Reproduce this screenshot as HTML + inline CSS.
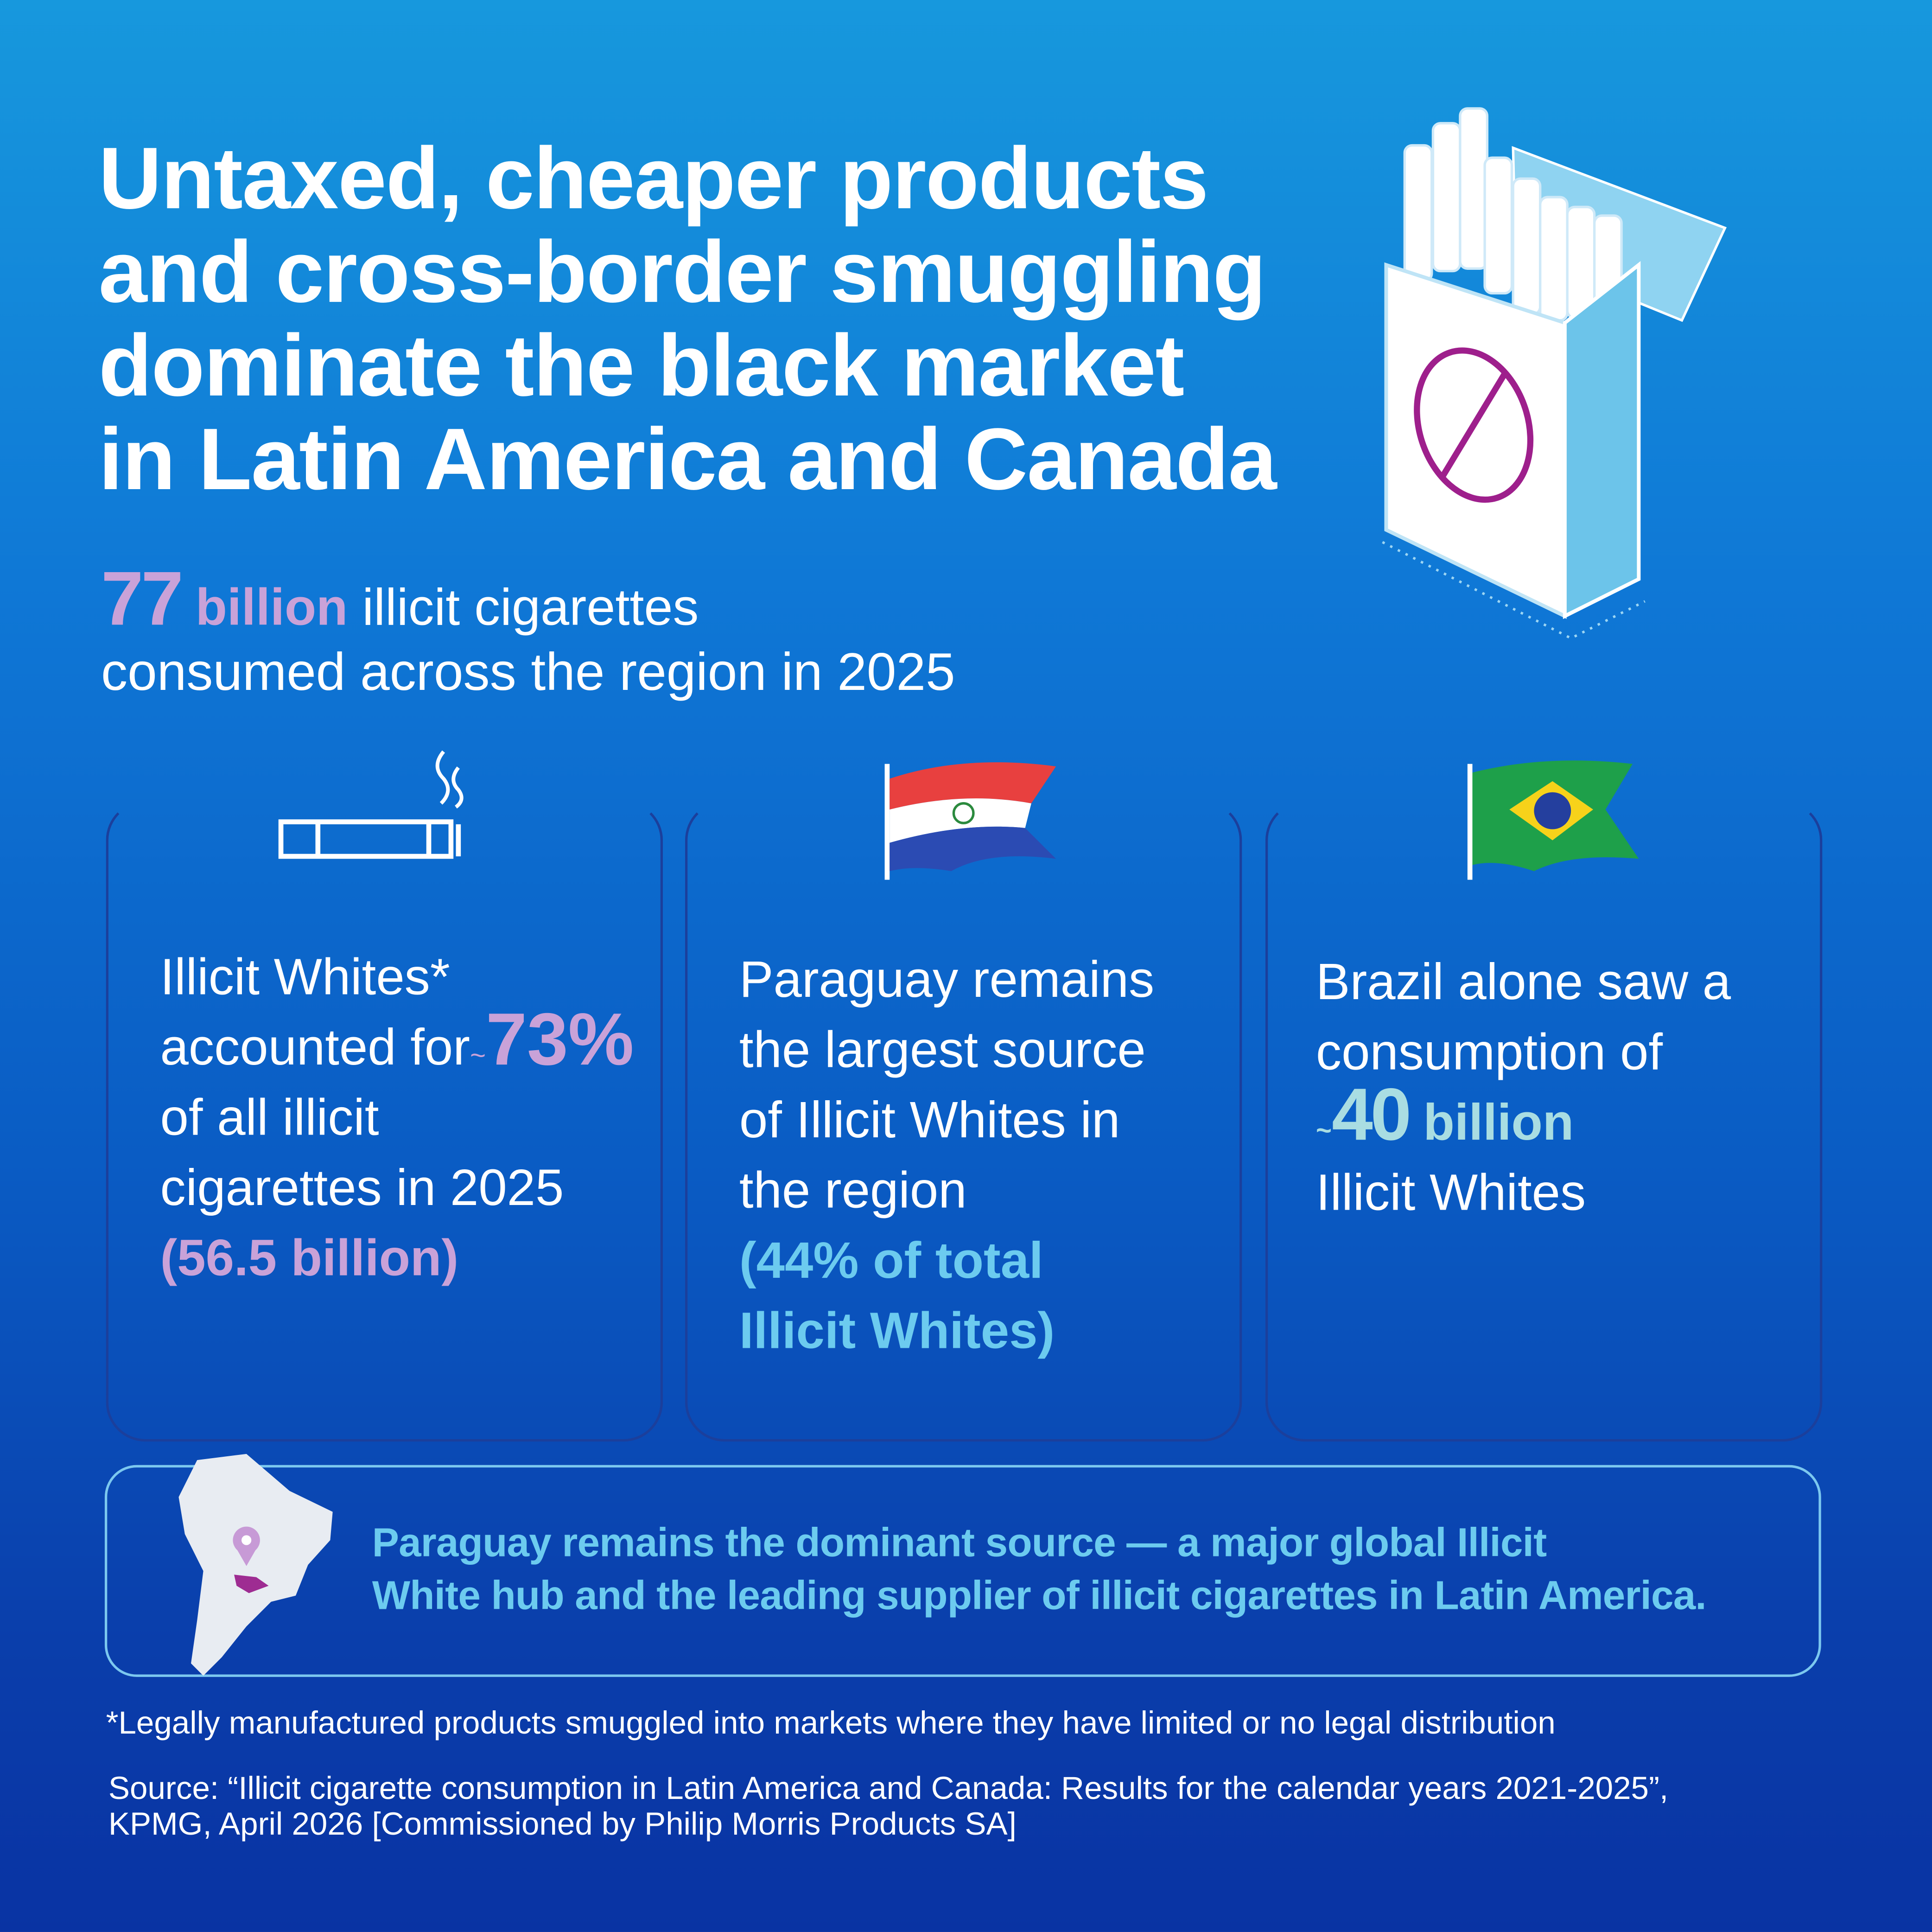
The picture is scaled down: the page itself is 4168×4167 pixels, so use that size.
<!DOCTYPE html>
<html><head><meta charset="utf-8"><style>
html,body{margin:0;padding:0;width:4168px;height:4167px;overflow:hidden;}
#w{position:absolute;left:0;top:0;width:1568px;height:1568px;transform:scale(2.65816,2.6575);transform-origin:0 0;
background:linear-gradient(180deg,#1798dd 0%,#0f78d6 30%,#0a5cc4 60%,#0a3eab 85%,#0933a3 100%);
font-family:"Liberation Sans",sans-serif;color:#fff;overflow:hidden;}
.a{position:absolute;white-space:nowrap;}
.t{font-weight:bold;font-size:71px;letter-spacing:-0.6px;line-height:76px;}
.card{position:absolute;top:650px;width:448px;height:516px;border:2.5px solid #1b3f9c;border-top-color:transparent;border-radius:32px;}
.ct{font-size:41.5px;line-height:57px;}
.big{line-height:0;}
.pk{color:#c9a2d8;font-weight:bold;}
.lb{color:#6ccbef;font-weight:bold;}
</style></head><body><div id="w">
<div class="a t" style="left:80px;top:108px;">Untaxed, cheaper products<br>and cross-border smuggling<br>dominate the black market<br>in Latin America and Canada</div>

<div class="a" style="left:82px;top:452px;font-size:42px;line-height:70px;"><span class="pk" style="font-size:62px;letter-spacing:-2px;">77</span> <span class="pk">billion</span> illicit cigarettes</div>
<div class="a" style="left:82px;top:522px;font-size:43px;">consumed across the region in 2025</div>

<!-- pack -->
<svg class="a" style="left:1110px;top:80px;" width="300" height="450" viewBox="1110 80 300 450">
<polygon points="1228,120 1400,185 1365,260 1230,205" fill="#8fd3f1" stroke="#fff" stroke-width="2"/>
<g fill="#fff" stroke="#cfe9f8" stroke-width="2">
<rect x="1140" y="118" width="22" height="110" rx="6"/><rect x="1163" y="100" width="22" height="120" rx="6"/><rect x="1185" y="88" width="22" height="130" rx="6"/>
<rect x="1205" y="128" width="22" height="110" rx="6"/><rect x="1228" y="145" width="22" height="110" rx="6"/><rect x="1250" y="160" width="22" height="100" rx="6"/>
<rect x="1272" y="168" width="22" height="90" rx="6"/><rect x="1294" y="175" width="22" height="80" rx="6"/></g>
<polygon points="1125,215 1270,262 1270,500 1125,430" fill="#fff" stroke="#bfe4f6" stroke-width="3"/>
<polygon points="1270,262 1330,215 1330,470 1270,500" fill="#6cc4ea" stroke="#fff" stroke-width="3"/>
<ellipse cx="1196" cy="345" rx="44" ry="62" transform="rotate(-18 1196 345)" fill="none" stroke="#9e1f8c" stroke-width="5"/>
<line x1="1170" y1="388" x2="1222" y2="302" stroke="#9e1f8c" stroke-width="5"/>
<path d="M1122,440 L1275,518 L1335,488" fill="none" stroke="#9dd6f4" stroke-width="2" stroke-dasharray="2 5"/>
</svg>

<div class="card" style="left:86px;"></div>
<div class="card" style="left:556px;"></div>
<div class="card" style="left:1027px;"></div>

<svg class="a" style="left:220px;top:605px;" width="160" height="95">
<rect x="8" y="62" width="138" height="28" fill="none" stroke="#fff" stroke-width="4"/><line x1="38" y1="62" x2="38" y2="90" stroke="#fff" stroke-width="4"/>
<line x1="128" y1="62" x2="128" y2="90" stroke="#fff" stroke-width="4"/><line x1="152" y1="64" x2="152" y2="90" stroke="#fff" stroke-width="4"/>
<path d="M140,5 q-10,12 0,22 q8,10 -2,20 M152,18 q-8,10 0,18 q6,8 -2,14" fill="none" stroke="#fff" stroke-width="3"/>
</svg>
<svg class="a" style="left:712px;top:612px;" width="150" height="105">
<line x1="8" y1="8" x2="8" y2="102" stroke="#fff" stroke-width="4"/>
<path d="M10,20 Q70,0 145,10 L125,40 Q70,30 10,45Z" fill="#e8403f"/>
<path d="M10,45 Q70,30 125,40 L120,60 Q70,55 10,72Z" fill="#fff"/>
<path d="M10,72 Q70,55 120,60 L145,85 Q90,78 60,95 Q30,90 10,95Z" fill="#2b4bb3"/>
<circle cx="70" cy="48" r="8" fill="#fff" stroke="#2b8a3e" stroke-width="2"/>
</svg>
<svg class="a" style="left:1185px;top:612px;" width="150" height="105">
<line x1="8" y1="8" x2="8" y2="102" stroke="#fff" stroke-width="4"/>
<path d="M10,15 Q70,0 140,8 L118,45 L145,85 Q90,80 60,95 Q30,85 10,90Z" fill="#1ea04a"/>
<polygon points="40,45 75,22 108,45 75,70" fill="#f7d21a"/>
<circle cx="75" cy="46" r="15" fill="#243f9e"/>
</svg>

<div class="a ct" style="left:130px;top:764px;">Illicit Whites*<br>accounted for<span class="big" style="color:#c9a2d8;font-size:22px;">~</span><span class="pk big" style="font-size:60px;">73%</span><br>of all illicit<br>cigarettes in 2025<br><span class="pk">(56.5 billion)</span></div>
<div class="a ct" style="left:600px;top:766px;">Paraguay remains<br>the largest source<br>of Illicit Whites in<br>the region<br><span class="lb">(44% of total<br>Illicit Whites)</span></div>
<div class="a ct" style="left:1068px;top:768px;">Brazil alone saw a<br>consumption of<br><span class="big" style="color:#a9dde2;font-weight:bold;"><span style="font-size:22px;">~</span><span style="font-size:60px;letter-spacing:-2px;">40</span> billion</span><br>Illicit Whites</div>

<div class="a" style="left:85px;top:1189px;width:1389px;height:168px;border:2.5px solid #7cc8ef;border-radius:26px;"></div>
<svg class="a" style="left:140px;top:1175px;" width="140" height="190">
<path d="M20,10 L60,5 L95,35 L130,52 L128,75 L110,95 L100,120 L80,125 L60,145 L40,170 L25,185 L15,175 L20,140 L25,100 L10,70 L5,40Z" fill="#e8ecf2"/>
<path d="M50,103 L68,105 L78,112 L62,118 L52,112Z" fill="#9e2c92"/>
<circle cx="60" cy="75" r="11" fill="#c79ad6"/><circle cx="60" cy="75" r="4" fill="#fff"/><path d="M52,82 L60,96 L68,82Z" fill="#c79ad6"/>
</svg>
<div class="a lb" style="left:302px;top:1230px;font-size:32.8px;line-height:43px;letter-spacing:-0.3px;">Paraguay remains the dominant source — a major global Illicit<br>White hub and the leading supplier of illicit cigarettes in Latin America.</div>

<div class="a" style="left:86px;top:1383px;font-size:26px;">*Legally manufactured products smuggled into markets where they have limited or no legal distribution</div>
<div class="a" style="left:88px;top:1437px;font-size:26px;line-height:29px;">Source: “Illicit cigarette consumption in Latin America and Canada: Results for the calendar years 2021-2025”,<br>KPMG, April 2026 [Commissioned by Philip Morris Products SA]</div>
</div></body></html>
